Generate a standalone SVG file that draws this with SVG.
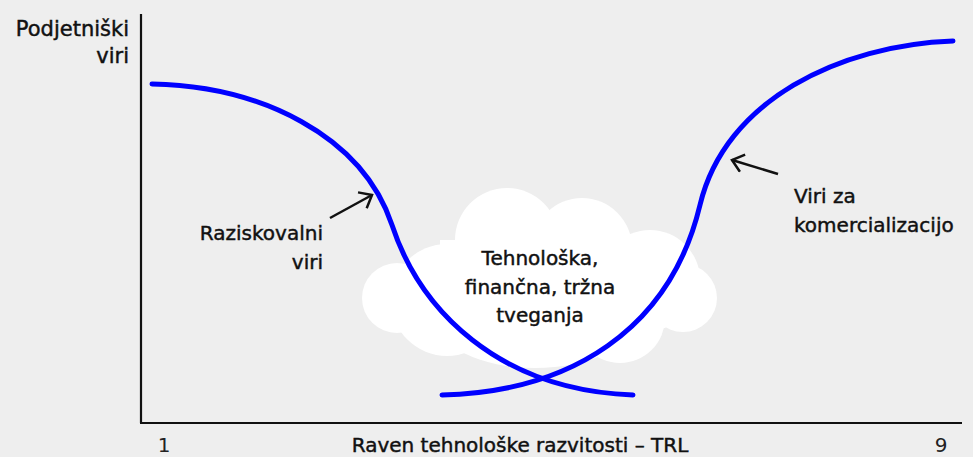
<svg xmlns="http://www.w3.org/2000/svg" width="973" height="457" viewBox="0 0 973 457">
  <style>
    .lbl { font-family: "DejaVu Sans", "Liberation Sans", sans-serif; font-size: 20px; fill: #111111; stroke: #111111; stroke-width: 0.45; }
    .tick { stroke: none; fill: #222222; }
    .axis { stroke: #111111; stroke-width: 2.2; fill: none; }
    .curve { stroke: #0000ff; stroke-width: 5; fill: none; stroke-linecap: round; }
    .pointer { stroke: #111111; stroke-width: 2.5; fill: none; }
    .cloud { fill: #ffffff; }
  </style>
  <defs>
    <marker id="openHead" markerUnits="userSpaceOnUse" markerWidth="20" markerHeight="20" viewBox="0 0 20 20" refX="14" refY="10" orient="auto">
      <path d="M3,1 L14,10 L3,19" fill="none" stroke="#111111" stroke-width="2.5"/>
    </marker>
  </defs>

  <rect width="973" height="457" fill="#eeeeee"/>

  <!-- risk cloud -->
  <g id="cloud" class="cloud">
    <circle cx="397" cy="298" r="35"/>
    <circle cx="447" cy="300" r="56"/>
    <circle cx="507" cy="240" r="52"/>
    <circle cx="582" cy="248" r="50"/>
    <circle cx="650" cy="280" r="50"/>
    <circle cx="683" cy="298" r="34"/>
    <ellipse cx="535" cy="318" rx="100" ry="50"/>
    <circle cx="620" cy="318" r="45"/>
    <rect x="440" y="240" width="200" height="80"/>
    <text class="lbl" x="540" y="265" text-anchor="middle">Tehnološka,</text>
    <text class="lbl" x="540" y="294" text-anchor="middle">finančna, tržna</text>
    <text class="lbl" x="540" y="322" text-anchor="middle">tveganja</text>
  </g>

  <!-- axes -->
  <g id="axes">
    <line class="axis" x1="141" y1="14" x2="141" y2="423"/>
    <line class="axis" x1="140" y1="423" x2="962" y2="423"/>
    <text class="lbl" x="129" y="36" text-anchor="end" style="font-size:21px">Podjetniški</text>
    <text class="lbl" x="129" y="63" text-anchor="end" style="font-size:21px">viri</text>
    <text class="lbl tick" x="164" y="452" text-anchor="middle">1</text>
    <text class="lbl" x="520" y="452" text-anchor="middle">Raven tehnološke razvitosti – TRL</text>
    <text class="lbl tick" x="941" y="452" text-anchor="middle">9</text>
  </g>

  <!-- funding curves and pointers -->
  <g id="connectors">
    <path id="research-curve" class="curve" d="M152,84 C260,86 362,135 392,225 C420,310 498,390 633,395"/>
    <path id="commercial-curve" class="curve" d="M442,395 C570,392 670,330 700,205 C725,100 840,45 953,41"/>
    <line class="pointer" x1="330" y1="218" x2="372" y2="195" marker-end="url(#openHead)"/>
    <line class="pointer" x1="778" y1="174" x2="732" y2="160" marker-end="url(#openHead)"/>
  </g>

  <g id="research-label">
    <text class="lbl" x="323" y="240" text-anchor="end">Raziskovalni</text>
    <text class="lbl" x="323" y="269" text-anchor="end">viri</text>
  </g>
  <g id="commercial-label">
    <text class="lbl" x="794" y="203">Viri za</text>
    <text class="lbl" x="794" y="232">komercializacijo</text>
  </g>
</svg>
